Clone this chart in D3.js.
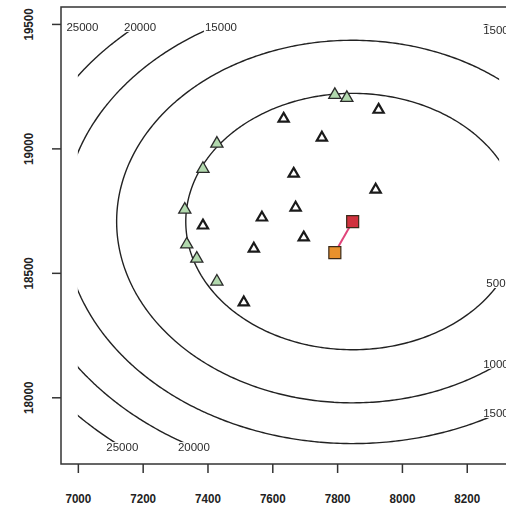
<!doctype html>
<html>
<head>
<meta charset="utf-8">
<title>Contour surface</title>
<script src="https://cdnjs.cloudflare.com/ajax/libs/d3/7.8.5/d3.min.js"></script>
<style>
  body { margin: 0; background: #fff; }
  svg { display: block; }
  .tick text { font-family: "Liberation Sans", Arial, sans-serif; font-weight: bold; }
</style>
</head>
<body>
<div id="chart"></div>
<script>
// ---- data ----
const xTicks = [7000, 7200, 7400, 7600, 7800, 8000, 8200];
const yTicks = [18000, 18500, 19000, 19500];
const contourLevels = [5000, 10000, 15000, 20000, 25000];

// extent of the evaluated surface (contours stop at its edges)
const gridX = [7000, 8300];
const gridY = [17800, 19500];
// surface: level grows with squared distance from the centre
const surfCentre = [7848, 18706];
const surfRadius5000 = 515;

// where each contour label sits: level, grid edge, which crossing
const labelLevels = [25000, 20000, 15000, 15000, 5000, 10000, 15000, 25000, 20000];
const labelEdges  = ['top', 'top', 'top', 'right', 'right', 'right', 'right', 'bottom', 'bottom'];
const labelSides  = [-1, -1, -1, 1, -1, -1, -1, -1, -1];

const greenPts = [
  [7429, 19019], [7386, 18918], [7330, 18754], [7336, 18614],
  [7367, 18557], [7429, 18465], [7793, 19215], [7830, 19203]
];
const openPts = [
  [7386, 18690], [7568, 18722], [7543, 18597], [7512, 18381],
  [7635, 19119], [7753, 19043], [7928, 19155], [7666, 18898],
  [7919, 18834], [7672, 18762], [7697, 18642]
];
const startPt = [7793, 18581];
const endPt = [7848, 18706];

// ---- chart ----
const W = 506, H = 508;
const mLeft = 61, mTop = 7, mRight = 516, mBottom = 464;

const x = d3.scaleLinear().domain([6948, 8352]).range([mLeft, mRight]);
const y = d3.scaleLinear().domain([17732, 19568]).range([mBottom, mTop]);

const svg = d3.select('#chart').append('svg')
  .attr('width', W).attr('height', H);

const surf = (px, py) => 5000 * ((px - surfCentre[0]) ** 2 + (py - surfCentre[1]) ** 2) / surfRadius5000 ** 2;

// grid padded past the edges, then clipped, so only isolines show
const step = 10;
const gx0 = gridX[0] - 50, gy0 = gridY[0] - 50;
const nx = Math.round((gridX[1] - gridX[0] + 100) / step) + 1;
const ny = Math.round((gridY[1] - gridY[0] + 100) / step) + 1;
const values = new Array(nx * ny);
for (let j = 0; j < ny; j++)
  for (let i = 0; i < nx; i++)
    values[j * nx + i] = surf(gx0 + i * step, gy0 + j * step);

const contours = d3.contours().size([nx, ny]).thresholds(contourLevels)(values);

const proj = d3.geoTransform({
  point: function(gx, gy) {
    this.stream.point(x(gx0 + (gx - 0.5) * step), y(gy0 + (gy - 0.5) * step));
  }
});
const path = d3.geoPath(proj);

svg.append('clipPath').attr('id', 'gridclip')
  .append('rect')
  .attr('x', x(gridX[0])).attr('y', y(gridY[1]))
  .attr('width', x(gridX[1]) - x(gridX[0]))
  .attr('height', y(gridY[0]) - y(gridY[1]));

svg.append('g')
  .attr('clip-path', 'url(#gridclip)')
  .selectAll('path')
  .data(contours)
  .join('path')
  .attr('d', path)
  .attr('fill', 'none')
  .attr('stroke', '#222')
  .attr('stroke-width', 1.4);

// contour labels, centred where the line meets the grid edge
const labels = labelLevels.map((lv, i) => {
  const r = Math.sqrt(lv / 5000) * surfRadius5000;
  let lx, ly;
  if (labelEdges[i] === 'right') {
    lx = gridX[1];
    ly = surfCentre[1] + labelSides[i] * Math.sqrt(r * r - (lx - surfCentre[0]) ** 2);
  } else {
    ly = labelEdges[i] === 'top' ? gridY[1] : gridY[0];
    lx = surfCentre[0] + labelSides[i] * Math.sqrt(r * r - (ly - surfCentre[1]) ** 2);
  }
  return { text: String(lv), lx, ly, edge: labelEdges[i] };
});

const lab = svg.append('g').style('opacity', 0.99)
  .selectAll('g').data(labels).join('g')
  .attr('transform', d => `translate(${x(d.lx)},${y(d.ly) + (d.edge === 'top' ? 3 : 0)})`);
lab.append('rect').attr('fill', '#fff');
lab.append('text')
  .attr('text-anchor', 'middle')
  .attr('dy', '0.35em')
  .style('font-family', '"Liberation Sans", Arial, sans-serif')
  .style('font-size', '11.5px')
  .attr('fill', '#2a2a2a')
  .text(d => d.text);
lab.each(function() {
  const b = d3.select(this).select('text').node().getBBox();
  d3.select(this).select('rect')
    .attr('x', b.x - 1).attr('y', b.y + 1)
    .attr('width', b.width + 2).attr('height', b.height - 2);
});

// box
svg.append('rect')
  .attr('x', mLeft).attr('y', mTop)
  .attr('width', mRight - mLeft).attr('height', mBottom - mTop)
  .attr('fill', 'none').attr('stroke', '#333').attr('stroke-width', 1.5);

// axes
const xAxis = svg.append('g')
  .attr('transform', `translate(0,${mBottom})`)
  .call(d3.axisBottom(x).tickValues(xTicks).tickSize(9).tickPadding(20).tickFormat(d3.format('d')));
xAxis.select('.domain').remove();
xAxis.selectAll('.tick line').attr('stroke', '#333').attr('stroke-width', 1.5);
xAxis.selectAll('.tick text').style('font-size', '13.5px').attr('fill', '#222')
  .attr('transform', 'scale(0.86,1)');

const yAxis = svg.append('g')
  .attr('transform', `translate(${mLeft},0)`)
  .call(d3.axisLeft(y).tickValues(yTicks).tickSize(9).tickFormat(d3.format('d')));
yAxis.select('.domain').remove();
yAxis.selectAll('.tick line').attr('stroke', '#333').attr('stroke-width', 1.5);
yAxis.selectAll('.tick text')
  .style('font-size', '13.5px').attr('fill', '#222')
  .attr('transform', 'rotate(-90) scale(0.86,1)')
  .attr('text-anchor', 'middle')
  .attr('x', 0).attr('y', -33).attr('dy', '0.35em');

// points
svg.append('g').selectAll('path').data(openPts).join('path')
  .attr('d', d3.symbol().type(d3.symbolTriangle).size(45)())
  .attr('transform', d => `translate(${x(d[0])},${y(d[1])})`)
  .attr('fill', '#fff').attr('stroke', '#1a1a1a').attr('stroke-width', 2.2);

svg.append('g').selectAll('path').data(greenPts).join('path')
  .attr('d', d3.symbol().type(d3.symbolTriangle).size(64)())
  .attr('transform', d => `translate(${x(d[0])},${y(d[1])})`)
  .attr('fill', '#b2d9ae').attr('stroke', '#2a2a2a').attr('stroke-width', 1.3);

svg.append('line')
  .attr('x1', x(startPt[0])).attr('y1', y(startPt[1]))
  .attr('x2', x(endPt[0])).attr('y2', y(endPt[1]))
  .attr('stroke', '#e0447a').attr('stroke-width', 2);

const sq = d3.symbol().type(d3.symbolSquare).size(144)();
svg.append('path').attr('d', sq)
  .attr('transform', `translate(${x(startPt[0])},${y(startPt[1])})`)
  .attr('fill', '#e8912d').attr('stroke', '#3a2a1a').attr('stroke-width', 1.2);
svg.append('path').attr('d', sq)
  .attr('transform', `translate(${x(endPt[0])},${y(endPt[1])})`)
  .attr('fill', '#d0323e').attr('stroke', '#3a2a1a').attr('stroke-width', 1.2);
</script>
</body>
</html>
